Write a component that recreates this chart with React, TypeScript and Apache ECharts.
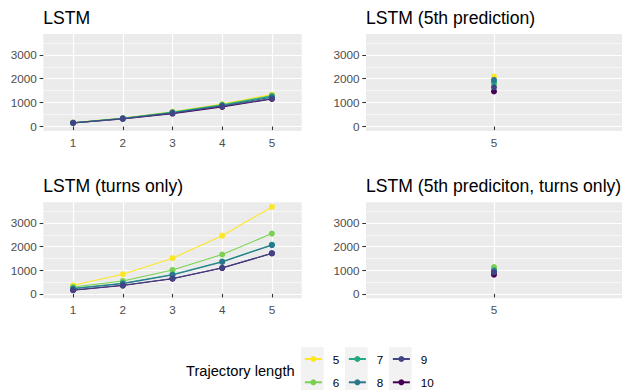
import React, { useEffect, useRef } from "react";
import * as echarts from "echarts";

const LENGTHS = ["5", "6", "7", "8", "9", "10"];
const COLORS = ["#FDE725", "#7AD151", "#22A884", "#2A788E", "#414487", "#440154"];
const DRAW_ORDER = [5, 0, 1, 2, 3, 4]; // "10" is plotted first, as in the original
const STEPS = [1, 2, 3, 4, 5];
const PRED_STEP = [5];

const TITLES = [
  "LSTM",
  "LSTM (5th prediction)",
  "LSTM (turns only)",
  "LSTM (5th prediciton, turns only)",
];

// LSTM: one array per trajectory length 5..10, values at steps 1..5
const LSTM_5 = [160, 350, 620, 940, 1340];
const LSTM_6 = [158, 345, 605, 915, 1300];
const LSTM_7 = [155, 340, 590, 895, 1270];
const LSTM_8 = [152, 335, 575, 870, 1230];
const LSTM_9 = [150, 325, 555, 845, 1170];
const LSTM_10 = [148, 320, 540, 820, 1150];

// LSTM (5th prediction), lengths 5..10
const PRED5 = [2090, 1760, 1850, 1950, 1640, 1470];

// LSTM (turns only)
const TURNS_5 = [360, 830, 1510, 2460, 3680];
const TURNS_6 = [290, 545, 1010, 1665, 2550];
const TURNS_7 = [230, 450, 820, 1370, 2080];
const TURNS_8 = [215, 430, 800, 1350, 2060];
const TURNS_9 = [160, 360, 650, 1100, 1720];
const TURNS_10 = [150, 350, 640, 1090, 1710];

// LSTM (5th prediction, turns only), lengths 5..10
const PRED5_TURNS = [1100, 1135, 1000, 960, 910, 810];

const Y_MAJOR = [0, 1000, 2000, 3000];
const Y_MINOR = [500, 1500, 2500, 3500];

const FONT = "Liberation Sans, Arial, sans-serif";

export default function App() {
  const ref = useRef<HTMLDivElement>(null);

  useEffect(() => {
    if (!ref.current) return;
    const chart = echarts.init(ref.current, undefined, { renderer: "svg" });

    const lstm = [LSTM_5, LSTM_6, LSTM_7, LSTM_8, LSTM_9, LSTM_10];
    const turns = [TURNS_5, TURNS_6, TURNS_7, TURNS_8, TURNS_9, TURNS_10];

    const grids = [
      { left: 43.3, top: 34, width: 258.4, height: 97 },
      { left: 366, top: 34, width: 258.6, height: 97 },
      { left: 43.3, top: 202.3, width: 258.4, height: 96 },
      { left: 366, top: 202.3, width: 258.6, height: 96 },
    ].map((g) => ({
      ...g,
      show: true,
      backgroundColor: "#EBEBEB",
      borderWidth: 0,
      containLabel: false,
    }));

    const xAxes = [0, 1, 2, 3].map((i) => {
      const single = i === 1 || i === 3;
      const ticks = single ? PRED_STEP : STEPS;
      return {
        type: "value",
        gridIndex: i,
        min: single ? 4.4 : 0.4,
        max: 5.6,
        axisLine: { show: false },
        axisTick: {
          show: true,
          customValues: ticks,
          length: 3.7,
          lineStyle: { color: "#333333", width: 1.07 },
        },
        axisLabel: {
          customValues: ticks,
          margin: 5,
          color: "#4D4D4D",
          fontSize: 11.7,
          fontFamily: FONT,
          formatter: (v: number) => String(v),
        },
        splitLine: { show: true, lineStyle: { color: "#FFFFFF", width: 1.2 } },
      };
    });

    const yAxes: any[] = [];
    [0, 1, 2, 3].forEach((i) => {
      yAxes.push({
        type: "value",
        gridIndex: i,
        position: "left",
        min: -190,
        max: 3875,
        axisLine: { show: false },
        axisTick: {
          show: true,
          customValues: Y_MAJOR,
          length: 3.7,
          lineStyle: { color: "#333333", width: 1.07 },
        },
        axisLabel: {
          customValues: Y_MAJOR,
          margin: 6.5,
          color: "#4D4D4D",
          fontSize: 11.7,
          fontFamily: FONT,
          formatter: (v: number) => String(v),
        },
        splitLine: { show: true, lineStyle: { color: "#FFFFFF", width: 1.2 } },
      });
      yAxes.push({
        type: "value",
        gridIndex: i,
        position: "left",
        min: -190,
        max: 3875,
        axisLine: { show: false },
        axisTick: { show: false, customValues: Y_MINOR },
        axisLabel: { show: false, customValues: Y_MINOR },
        splitLine: { show: true, lineStyle: { color: "#FFFFFF", width: 0.6 } },
      });
    });

    const series: any[] = [];
    const addPanel = (panel: number, rows: number[][], xs: number[]) => {
      DRAW_ORDER.forEach((k) => {
        const vals = rows[k];
        series.push({
          type: "line",
          name: LENGTHS[k],
          xAxisIndex: panel,
          yAxisIndex: panel * 2,
          data: xs.map((x, j) => [x, vals[j]]),
          symbol: "circle",
          symbolSize: 6,
          showSymbol: true,
          color: COLORS[k],
          itemStyle: { color: COLORS[k] },
          lineStyle: { color: COLORS[k], width: 1.1 },
          emphasis: { disabled: true },
        });
      });
    };
    addPanel(0, lstm, STEPS);
    addPanel(1, PRED5.map((v) => [v]), PRED_STEP);
    addPanel(2, turns, STEPS);
    addPanel(3, PRED5_TURNS.map((v) => [v]), PRED_STEP);

    const colX = [301, 345, 389];
    const legends = colX.map((x, c) => ({
      data: [LENGTHS[c * 2], LENGTHS[c * 2 + 1]],
      orient: "vertical",
      left: x + 2.85,
      top: 353,
      padding: 0,
      itemWidth: 17,
      itemHeight: 7.5,
      itemGap: 11.3,
      selectedMode: false,
      textStyle: {
        color: "#000000",
        fontSize: 11.7,
        fontFamily: FONT,
        padding: [0, 0, 0, 6],
      },
    }));

    const titlePos = [
      [43.3, 17.5],
      [366, 17.5],
      [43.3, 185.5],
      [366, 185.5],
    ];

    const graphic: any[] = [
      ...titlePos.map((p, i) => ({
        type: "text",
        x: p[0],
        y: p[1],
        style: {
          text: TITLES[i],
          fill: "#000000",
          fontSize: 17.6,
          fontFamily: FONT,
          verticalAlign: "middle",
          align: "left",
        },
      })),
      ...colX.map((x) => ({
        type: "rect",
        z: -1,
        shape: { x, y: 347.3, width: 22.7, height: 46.6 },
        style: { fill: "#F2F2F2" },
      })),
      {
        type: "text",
        x: 186,
        y: 371,
        style: {
          text: "Trajectory length",
          fill: "#000000",
          fontSize: 14.67,
          fontFamily: FONT,
          verticalAlign: "middle",
          align: "left",
        },
      },
    ];

    chart.setOption({
      animation: false,
      backgroundColor: "#FFFFFF",
      grid: grids,
      xAxis: xAxes,
      yAxis: yAxes,
      series,
      legend: legends,
      graphic,
    });

    return () => chart.dispose();
  }, []);

  return (
    <div
      ref={ref}
      style={{ position: "fixed", left: 0, top: 0, width: 622, height: 390 }}
    />
  );
}
